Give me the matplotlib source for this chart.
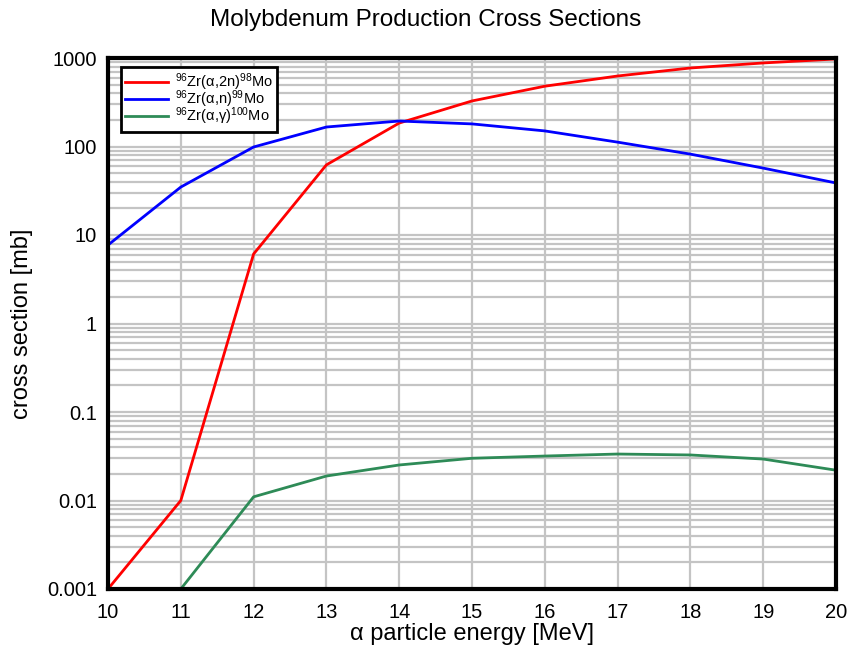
import matplotlib
matplotlib.use("Agg")
import matplotlib.pyplot as plt
from matplotlib.ticker import LogLocator, NullFormatter

plt.rcParams['font.family'] = ['Liberation Sans', 'DejaVu Sans']
plt.rcParams['mathtext.fontset'] = 'custom'
plt.rcParams['mathtext.rm'] = 'Liberation Sans'
plt.rcParams['mathtext.it'] = 'Liberation Sans'

# data
energy = [10, 11, 12, 13, 14, 15, 16, 17, 18, 19, 20]
xs_2n = [0.001, 0.01, 6.1, 62, 184, 327, 480, 626, 771, 879, 975]
xs_n = [7.7, 34.8, 98.7, 166, 194, 180, 150, 112, 82, 57, 38.7]
energy_g = [11, 12, 13, 14, 15, 16, 17, 18, 19, 20]
xs_g = [0.001, 0.011, 0.0189, 0.0252, 0.030, 0.0318, 0.0335, 0.0327, 0.0294, 0.022]
ytick_vals = [0.001, 0.01, 0.1, 1, 10, 100, 1000]
ytick_labels = ['0.001', '0.01', '0.1', '1', '10', '100', '1000']

fig = plt.figure(figsize=(8.51, 6.52), dpi=100)
ax = fig.add_axes([108/851, 1-589/652, (836-108)/851, (589-58)/652])

ax.plot(energy, xs_2n, color='#ff0000', lw=2, label=r'$^{96}$Zr(α,2n)$^{98}$Mo')
ax.plot(energy, xs_n, color='#0000ff', lw=2, label=r'$^{96}$Zr(α,n)$^{99}$Mo')
ax.plot(energy_g, xs_g, color='#2e8b57', lw=2, label=r'$^{96}$Zr(α,γ)$^{100}$Mo')

ax.set_yscale('log')
ax.set_xlim(10, 20)
ax.set_ylim(0.001, 1000)
ax.set_xticks(energy)
ax.set_yticks(ytick_vals)
ax.set_yticklabels(ytick_labels)
ax.yaxis.set_minor_locator(LogLocator(base=10, subs=range(2, 10), numticks=20))
ax.yaxis.set_minor_formatter(NullFormatter())
ax.grid(True, which='both', color='#c4c4c4', lw=1.6)
ax.set_axisbelow(True)
ax.tick_params(which='both', length=0, labelsize=14.5)
ax.tick_params(axis='y', pad=8)
ax.tick_params(axis='x', pad=10)
for s in ax.spines.values():
    s.set_linewidth(3)
    s.set_color('black')

ax.set_xlabel('α particle energy [MeV]', fontsize=17, labelpad=1)
ax.set_ylabel('cross section [mb]', fontsize=17, labelpad=10)
fig.text(0.5, 1-20/652, 'Molybdenum Production Cross Sections', ha='center', va='center', fontsize=17.5)

leg = ax.legend(loc='upper left', bbox_to_anchor=(0.018, 0.983), fontsize=10.5,
                frameon=True, fancybox=False, framealpha=1, edgecolor='black',
                borderpad=0.3, labelspacing=-0.3, handlelength=2.9, handletextpad=0.5,
                borderaxespad=0)
leg.get_frame().set_linewidth(2)

fig.savefig('out.png', dpi=100)
